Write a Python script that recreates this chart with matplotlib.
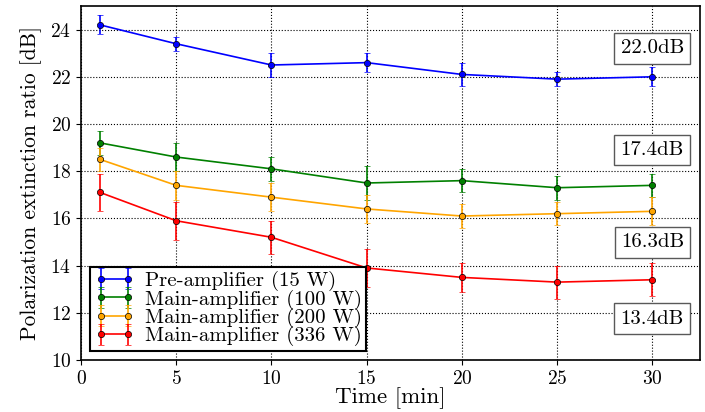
import numpy as np
import matplotlib
matplotlib.use("Agg")
import matplotlib.pyplot as plt

plt.rcParams['font.family'] = 'serif'
plt.rcParams['font.serif'] = ['cmr10', 'DejaVu Serif']
plt.rcParams['mathtext.fontset'] = 'cm'
plt.rcParams['axes.formatter.use_mathtext'] = True

# time in minutes
t = [1, 5, 10, 15, 20, 25, 30]

pre_15 = [24.2, 23.4, 22.5, 22.6, 22.1, 21.9, 22.0]
pre_15_err = [0.4, 0.3, 0.5, 0.4, 0.5, 0.3, 0.4]
main_100 = [19.2, 18.6, 18.1, 17.5, 17.6, 17.3, 17.4]
main_100_err = [0.5, 0.6, 0.5, 0.7, 0.5, 0.5, 0.5]
main_200 = [18.5, 17.4, 16.9, 16.4, 16.1, 16.2, 16.3]
main_200_err = [0.5, 0.6, 0.6, 0.6, 0.5, 0.5, 0.6]
main_336 = [17.1, 15.9, 15.2, 13.9, 13.5, 13.3, 13.4]
main_336_err = [0.8, 0.8, 0.7, 0.8, 0.6, 0.7, 0.7]

labels = ['Pre-amplifier (15 W)', 'Main-amplifier (100 W)',
          'Main-amplifier (200 W)', 'Main-amplifier (336 W)']
colors = ['blue', 'green', 'orange', 'red']
final_labels = ['22.0dB', '17.4dB', '16.3dB', '13.4dB']
label_y = [23.2, 18.9, 14.98, 11.75]

fig = plt.figure(figsize=(7.05, 4.12), dpi=100)
ax = fig.add_axes([81/705, 1-360/412, 619/705, 354/412])

series = [(pre_15, pre_15_err), (main_100, main_100_err),
          (main_200, main_200_err), (main_336, main_336_err)]
for (y, e), c, lab in zip(series, colors, labels):
    ax.errorbar(t, y, yerr=e, color=c, marker='o', ms=4.5, mec='k', mew=0.5,
                capsize=2.5, lw=1.2, elinewidth=1.2, label=lab)

for txt, yy in zip(final_labels, label_y):
    ax.text(30, yy, txt, ha='center', va='center', fontsize=15,
            bbox=dict(boxstyle='square,pad=0.3', fc='white', ec='0.35', lw=1))

ax.set_xlim(0, 32.5)
ax.set_ylim(10, 25)
ax.set_xticks([0, 5, 10, 15, 20, 25, 30])
ax.set_yticks([10, 12, 14, 16, 18, 20, 22, 24])
ax.tick_params(labelsize=14)
ax.grid(True, color='k', linestyle=':', linewidth=0.8)
ax.set_xlabel('Time [min]', fontsize=16.5, labelpad=0)
ax.set_ylabel('Polarization extinction ratio [dB]', fontsize=15.5, labelpad=6)
for s in ax.spines.values():
    s.set_linewidth(1.2)

leg = ax.legend(loc='lower left', numpoints=2, fontsize=15, fancybox=False,
                edgecolor='k', framealpha=1, borderpad=0.2, labelspacing=-0.08,
                handlelength=1.9, handletextpad=0.5, borderaxespad=0.45)
leg.get_frame().set_linewidth(1.5)

fig.savefig('out.png', dpi=100)
